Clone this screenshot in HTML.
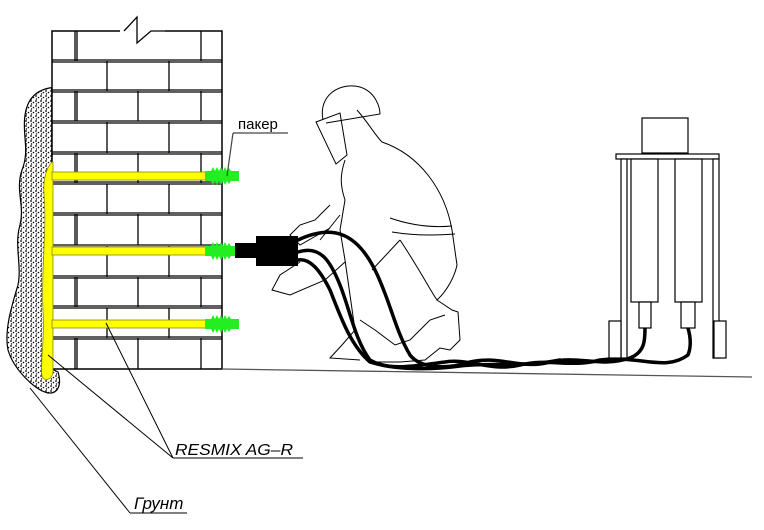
<!DOCTYPE html>
<html><head><meta charset="utf-8"><style>
html,body{margin:0;padding:0;background:#fff;width:764px;height:530px;overflow:hidden}
svg{display:block}
</style></head><body>
<svg width="764" height="530" viewBox="0 0 764 530" xmlns="http://www.w3.org/2000/svg">
<defs>
<pattern id="dots" width="5" height="5" patternUnits="userSpaceOnUse">
<rect width="5" height="5" fill="#fff"/>
<circle cx="1" cy="1" r="0.9" fill="#000"/><circle cx="3.5" cy="2.5" r="0.8" fill="#000"/><circle cx="1.5" cy="4" r="0.7" fill="#000"/>
</pattern>
</defs>
<!-- soil -->
<path d="M57,87 C40,88 28,95 25,115 C22,135 30,150 22,170 C15,190 25,205 20,225 C14,245 22,265 18,285 C12,305 4,330 8,350 C14,370 35,390 48,393 C58,394 62,385 58,372 L52,369 L52,87 Z" fill="url(#dots)" stroke="#000" stroke-width="1.2"/>
<!-- wall -->
<rect x="52" y="31" width="170" height="338" fill="#fff" stroke="#000" stroke-width="1.5"/>
<g stroke="#000" stroke-width="1.3" fill="none">
<path d="M52,60H222M52,62H222M52,90H222M52,92H222M52,121H222M52,123H222M52,152H222M52,154H222M52,182H222M52,184H222M52,213H222M52,215H222M52,245H222M52,247H222M52,276H222M52,278H222M52,306H222M52,308H222M52,337H222M52,339H222"/>
<path d="M75,31V61M77,31V61M201,31V61M75,91V121M77,91V121M138,91V121M201,91V121M75,153V183M77,153V183M138,153V183M201,153V183M75,214V245M77,214V245M138,214V245M201,214V245M75,277V307M77,277V307M138,277V307M201,277V307M75,338V369M77,338V369M138,338V369M201,338V369"/>
<path d="M107,61V91M169,61V91M107,122V153M169,122V153M107,184V214M169,184V214M107,246V277M169,246V277M107,308V338M169,308V338"/>
</g>
<rect x="120" y="10" width="45" height="23" fill="#fff"/>
<path d="M124,31 L137,17 L137,31 M137,31V43 L151,31 H165" stroke="#000" stroke-width="1.3" fill="none"/>
<!-- yellow -->
<g fill="#ffff00" stroke="#8a8a00" stroke-width="0.8">
<path d="M52,162 L53,162 L53,372 C52,380 44,382 42,376 C40,362 45,340 43,310 C41,270 47,230 44,195 C43,180 46,168 52,162 Z"/>
<rect x="52" y="172" width="155" height="8"/>
<rect x="52" y="247" width="155" height="8"/>
<rect x="52" y="320" width="155" height="8"/>
</g>
<!-- packers -->
<g fill="#22ee22">
<path d="M205,171 h6 l2,-4 l2,4 l2,-4 l2,4 l2,-4 l2,4 l2,-4 l2,4 l2,-3 l2,3 h8 v10 h-8 l-2,3 l-2,-3 l-2,4 l-2,-4 l-2,4 l-2,-4 l-2,4 l-2,-4 l-2,4 l-2,-4 h-6z"/>
<path d="M205,246 h6 l2,-4 l2,4 l2,-4 l2,4 l2,-4 l2,4 l2,-4 l2,4 l2,-3 l2,3 h5 v10 h-5 l-2,3 l-2,-3 l-2,4 l-2,-4 l-2,4 l-2,-4 l-2,4 l-2,-4 l-2,4 l-2,-4 h-6z"/>
<path d="M205,319 h6 l2,-4 l2,4 l2,-4 l2,4 l2,-4 l2,4 l2,-4 l2,4 l2,-3 l2,3 h8 v10 h-8 l-2,3 l-2,-3 l-2,4 l-2,-4 l-2,4 l-2,-4 l-2,4 l-2,-4 l-2,4 l-2,-4 h-6z"/>
</g>
<!-- ground -->
<path d="M222,369 L752,377" stroke="#555" stroke-width="1.3"/>
<!-- labels -->
<text x="238" y="129" font-family="Liberation Sans, sans-serif" font-size="15" fill="#000">пакер</text>
<path d="M233,133 H288 M233,133 L227,176" stroke="#444" stroke-width="1.2" fill="none"/>
<text x="175" y="455" font-family="Liberation Sans, sans-serif" font-style="italic" font-size="16" textLength="118" lengthAdjust="spacingAndGlyphs" fill="#000">RESMIX AG–R</text>
<path d="M173,458 H303 M173,458 L48,355 M173,458 L106,323" stroke="#000" stroke-width="1" fill="none"/>
<text x="134" y="509" font-family="Liberation Sans, sans-serif" font-style="italic" font-size="17" fill="#000">Грунт</text>
<path d="M130,513 H187 M130,513 L30,388" stroke="#000" stroke-width="1" fill="none"/>
<!-- worker -->
<g stroke="#000" stroke-width="1" fill="none">
<path d="M323,120 C318,95 340,82 360,87 C376,92 380,108 380,114 L326,123"/>
<path d="M316,122 L340,113 L347,155 L336,164 Z"/>
<path d="M357,110 C370,125 375,135 382,142 C420,155 445,190 452,230 L457,265 C455,275 448,290 437,300 L452,310 L458,312 L460,340 L450,350 L440,348 L425,360 L400,362 L372,362"/>
<path d="M345,160 C340,175 340,185 345,200 L340,230 L345,260 L355,330 L342,345 L330,358 L360,360"/>
<path d="M390,218 C410,225 430,228 452,226 M392,232 C410,235 430,236 455,234"/>
<path d="M400,240 C420,270 430,290 437,300 M372,270 L400,240"/>
<path d="M330,205 L315,220 L300,225 L290,235 L300,245 L330,228 M340,215 L320,240"/>
<path d="M300,262 L280,275 L272,290 L290,295 L325,280 L345,262"/>
<path d="M360,320 L375,330 L395,345 L410,340 L420,330 L430,320 L445,315"/>
</g>
<!-- nozzle -->
<rect x="235" y="243" width="22" height="15" fill="#000"/>
<rect x="256" y="236" width="42" height="30" fill="#000"/>
<!-- hoses -->
<g stroke="#000" stroke-width="3.5" fill="none" stroke-linecap="round">
<path d="M298,240 C330,225 355,230 375,270 C390,300 395,330 410,355 C420,368 445,370 470,362 C500,355 520,370 550,362 C580,355 600,368 630,358 C645,352 645,340 645,328"/>
<path d="M298,252 C320,245 330,260 340,285 C350,310 355,340 370,360 C390,372 420,365 445,362 C470,358 490,372 520,365 C550,358 570,368 600,360 C640,355 665,372 688,355 C692,345 690,335 688,328"/>
<path d="M298,260 C310,258 320,270 330,290 C340,315 350,345 370,362 C395,370 430,370 460,366 C490,362 520,368 560,360"/>
</g>
<!-- machine -->
<g stroke="#000" stroke-width="1.2" fill="#fff">
<rect x="642" y="118" width="46" height="35"/>
<rect x="616" y="154" width="103" height="5"/>
<rect x="621" y="159" width="6" height="199"/>
<rect x="713" y="159" width="6" height="199"/>
<rect x="631" y="159" width="27" height="143"/>
<rect x="675" y="159" width="27" height="143"/>
<rect x="639" y="302" width="12" height="26"/>
<rect x="681" y="302" width="14" height="26"/>
<rect x="609" y="321" width="12" height="37"/>
<rect x="714" y="321" width="12" height="37"/>
</g>
</svg>
</body></html>
